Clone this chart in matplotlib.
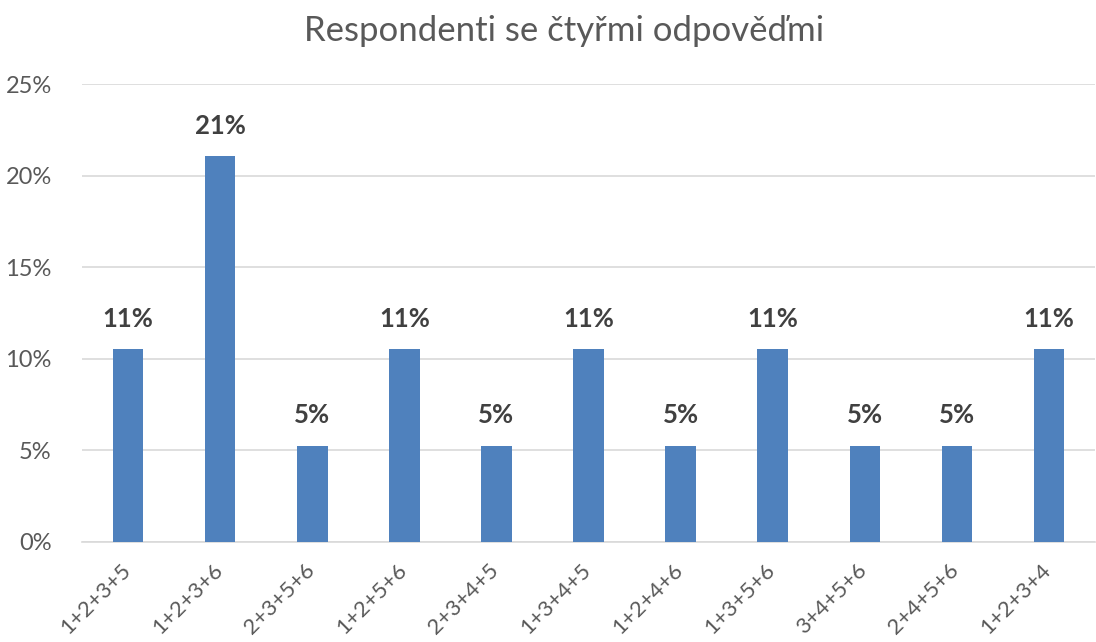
import numpy as np
import matplotlib
matplotlib.use("Agg")
import matplotlib.pyplot as plt
import matplotlib.transforms as mtransforms
from matplotlib.ticker import PercentFormatter

# Data
categories = ["1+2+3+5", "1+2+3+6", "2+3+5+6", "1+2+5+6", "2+3+4+5", "1+3+4+5",
              "1+2+4+6", "1+3+5+6", "3+4+5+6", "2+4+5+6", "1+2+3+4"]
shares = [10.53, 21.05, 5.26, 10.53, 5.26, 10.53, 5.26, 10.53, 5.26, 5.26, 10.53]
labels = ["11%", "21%", "5%", "11%", "5%", "11%", "5%", "11%", "5%", "5%", "11%"]
yticks = [0, 5, 10, 15, 20, 25]

plt.rcParams['font.family'] = ['Lato', 'DejaVu Sans']

fig = plt.figure(figsize=(10.96, 6.42), dpi=100)
ax = fig.add_axes([0.075, 0.156, 0.924, 0.713])

x = np.arange(len(categories))
ax.bar(x, shares, width=0.33, color='#4F81BD', zorder=3)

for xi, v, lab in zip(x, shares, labels):
    ax.text(xi, v + 1.0, lab, ha='center', va='bottom', fontsize=18.5,
            fontweight='bold', color='#404040')

ax.set_xlim(-0.5, len(categories) - 0.5)
ax.set_ylim(0, 25)
ax.set_yticks(yticks)
ax.yaxis.set_major_formatter(PercentFormatter(decimals=0))
ax.grid(axis='y', color='#D9D9D9', linewidth=1.2, zorder=0)
ax.set_xticks(x)
ax.set_xticklabels(categories, rotation=45, ha='right', va='top',
                   rotation_mode='anchor', fontsize=16, color='#595959')
ax.tick_params(axis='x', length=0, pad=13)
ax.tick_params(axis='y', length=0, pad=22, labelsize=17, labelcolor='#595959')
# nudge the rotated labels a little to the left, as in the original
shift = mtransforms.ScaledTranslation(-8 / 100, 0, fig.dpi_scale_trans)
for t in ax.get_xticklabels():
    t.set_transform(t.get_transform() + shift)
for s in ['top', 'right', 'left']:
    ax.spines[s].set_visible(False)
ax.spines['bottom'].set_color('#D9D9D9')
ax.spines['bottom'].set_linewidth(1.2)

fig.text(0.515, 0.951, "Respondenti se čtyřmi odpověďmi", ha='center', va='center',
         fontsize=25, color='#595959')

fig.savefig("out.png", dpi=100)
